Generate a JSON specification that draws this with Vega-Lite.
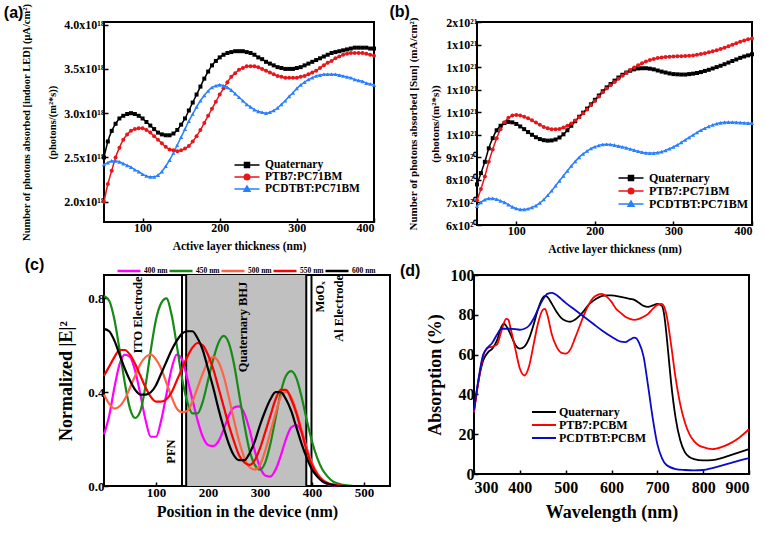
{
"$schema": "https://vega.github.io/schema/vega-lite/v6.json",
"background": "white",
"padding": {"left": 2, "top": 2, "right": 2, "bottom": 2},
"resolve": {"scale": {"color": "independent", "shape": "independent"}, "legend": {"color": "independent", "shape": "independent"}},
"config": {
  "view": {"stroke": "black", "strokeWidth": 2},
  "axis": {"grid": false, "domain": false, "tickColor": "black", "tickSize": -4, "tickWidth": 1.5, "labelPadding": 4, "labelColor": "black", "titleColor": "black", "labelFont": "Liberation Serif", "titleFont": "Liberation Serif", "labelFontWeight": "bold", "titleFontWeight": "bold"},
  "legend": {"labelFont": "Liberation Serif", "labelFontWeight": "bold", "labelColor": "black"},
  "title": {"font": "Liberation Sans", "fontWeight": "bold", "fontSize": 16, "color": "black", "anchor": "start", "frame": "bounds"}
},
"datasets": {
"a": [
{"s":"Quaternary","x":50,"y":2.50},{"s":"Quaternary","x":55,"y":2.68},{"s":"Quaternary","x":60,"y":2.80},{"s":"Quaternary","x":65,"y":2.88},{"s":"Quaternary","x":70,"y":2.94},{"s":"Quaternary","x":75,"y":2.97},{"s":"Quaternary","x":80,"y":2.99},{"s":"Quaternary","x":85,"y":3.00},{"s":"Quaternary","x":90,"y":2.99},{"s":"Quaternary","x":95,"y":2.97},{"s":"Quaternary","x":100,"y":2.94},{"s":"Quaternary","x":105,"y":2.90},{"s":"Quaternary","x":110,"y":2.86},{"s":"Quaternary","x":115,"y":2.82},{"s":"Quaternary","x":120,"y":2.78},{"s":"Quaternary","x":125,"y":2.76},{"s":"Quaternary","x":130,"y":2.75},{"s":"Quaternary","x":135,"y":2.75},{"s":"Quaternary","x":140,"y":2.77},{"s":"Quaternary","x":145,"y":2.81},{"s":"Quaternary","x":150,"y":2.87},{"s":"Quaternary","x":155,"y":2.94},{"s":"Quaternary","x":160,"y":3.03},{"s":"Quaternary","x":165,"y":3.12},{"s":"Quaternary","x":170,"y":3.21},{"s":"Quaternary","x":175,"y":3.30},{"s":"Quaternary","x":180,"y":3.39},{"s":"Quaternary","x":185,"y":3.47},{"s":"Quaternary","x":190,"y":3.54},{"s":"Quaternary","x":195,"y":3.59},{"s":"Quaternary","x":200,"y":3.63},{"s":"Quaternary","x":205,"y":3.66},{"s":"Quaternary","x":210,"y":3.68},{"s":"Quaternary","x":215,"y":3.69},{"s":"Quaternary","x":220,"y":3.70},{"s":"Quaternary","x":225,"y":3.70},{"s":"Quaternary","x":230,"y":3.70},{"s":"Quaternary","x":235,"y":3.69},{"s":"Quaternary","x":240,"y":3.68},{"s":"Quaternary","x":245,"y":3.66},{"s":"Quaternary","x":250,"y":3.63},{"s":"Quaternary","x":255,"y":3.61},{"s":"Quaternary","x":260,"y":3.58},{"s":"Quaternary","x":265,"y":3.56},{"s":"Quaternary","x":270,"y":3.54},{"s":"Quaternary","x":275,"y":3.52},{"s":"Quaternary","x":280,"y":3.51},{"s":"Quaternary","x":285,"y":3.50},{"s":"Quaternary","x":290,"y":3.50},{"s":"Quaternary","x":295,"y":3.50},{"s":"Quaternary","x":300,"y":3.51},{"s":"Quaternary","x":305,"y":3.52},{"s":"Quaternary","x":310,"y":3.54},{"s":"Quaternary","x":315,"y":3.56},{"s":"Quaternary","x":320,"y":3.58},{"s":"Quaternary","x":325,"y":3.60},{"s":"Quaternary","x":330,"y":3.62},{"s":"Quaternary","x":335,"y":3.64},{"s":"Quaternary","x":340,"y":3.66},{"s":"Quaternary","x":345,"y":3.68},{"s":"Quaternary","x":350,"y":3.69},{"s":"Quaternary","x":355,"y":3.70},{"s":"Quaternary","x":360,"y":3.71},{"s":"Quaternary","x":365,"y":3.72},{"s":"Quaternary","x":370,"y":3.73},{"s":"Quaternary","x":375,"y":3.74},{"s":"Quaternary","x":380,"y":3.74},{"s":"Quaternary","x":385,"y":3.74},{"s":"Quaternary","x":390,"y":3.74},{"s":"Quaternary","x":395,"y":3.73},{"s":"Quaternary","x":400,"y":3.73},
{"s":"PTB7:PC71BM","x":50,"y":2.00},{"s":"PTB7:PC71BM","x":55,"y":2.20},{"s":"PTB7:PC71BM","x":60,"y":2.35},{"s":"PTB7:PC71BM","x":65,"y":2.50},{"s":"PTB7:PC71BM","x":70,"y":2.61},{"s":"PTB7:PC71BM","x":75,"y":2.70},{"s":"PTB7:PC71BM","x":80,"y":2.76},{"s":"PTB7:PC71BM","x":85,"y":2.80},{"s":"PTB7:PC71BM","x":90,"y":2.82},{"s":"PTB7:PC71BM","x":95,"y":2.83},{"s":"PTB7:PC71BM","x":100,"y":2.83},{"s":"PTB7:PC71BM","x":105,"y":2.81},{"s":"PTB7:PC71BM","x":110,"y":2.78},{"s":"PTB7:PC71BM","x":115,"y":2.74},{"s":"PTB7:PC71BM","x":120,"y":2.70},{"s":"PTB7:PC71BM","x":125,"y":2.66},{"s":"PTB7:PC71BM","x":130,"y":2.62},{"s":"PTB7:PC71BM","x":135,"y":2.59},{"s":"PTB7:PC71BM","x":140,"y":2.58},{"s":"PTB7:PC71BM","x":145,"y":2.57},{"s":"PTB7:PC71BM","x":150,"y":2.58},{"s":"PTB7:PC71BM","x":155,"y":2.60},{"s":"PTB7:PC71BM","x":160,"y":2.63},{"s":"PTB7:PC71BM","x":165,"y":2.68},{"s":"PTB7:PC71BM","x":170,"y":2.74},{"s":"PTB7:PC71BM","x":175,"y":2.81},{"s":"PTB7:PC71BM","x":180,"y":2.89},{"s":"PTB7:PC71BM","x":185,"y":2.97},{"s":"PTB7:PC71BM","x":190,"y":3.05},{"s":"PTB7:PC71BM","x":195,"y":3.13},{"s":"PTB7:PC71BM","x":200,"y":3.21},{"s":"PTB7:PC71BM","x":205,"y":3.28},{"s":"PTB7:PC71BM","x":210,"y":3.35},{"s":"PTB7:PC71BM","x":215,"y":3.41},{"s":"PTB7:PC71BM","x":220,"y":3.45},{"s":"PTB7:PC71BM","x":225,"y":3.49},{"s":"PTB7:PC71BM","x":230,"y":3.51},{"s":"PTB7:PC71BM","x":235,"y":3.53},{"s":"PTB7:PC71BM","x":240,"y":3.53},{"s":"PTB7:PC71BM","x":245,"y":3.53},{"s":"PTB7:PC71BM","x":250,"y":3.52},{"s":"PTB7:PC71BM","x":255,"y":3.50},{"s":"PTB7:PC71BM","x":260,"y":3.48},{"s":"PTB7:PC71BM","x":265,"y":3.46},{"s":"PTB7:PC71BM","x":270,"y":3.44},{"s":"PTB7:PC71BM","x":275,"y":3.42},{"s":"PTB7:PC71BM","x":280,"y":3.41},{"s":"PTB7:PC71BM","x":285,"y":3.40},{"s":"PTB7:PC71BM","x":290,"y":3.40},{"s":"PTB7:PC71BM","x":295,"y":3.40},{"s":"PTB7:PC71BM","x":300,"y":3.40},{"s":"PTB7:PC71BM","x":305,"y":3.41},{"s":"PTB7:PC71BM","x":310,"y":3.42},{"s":"PTB7:PC71BM","x":315,"y":3.44},{"s":"PTB7:PC71BM","x":320,"y":3.46},{"s":"PTB7:PC71BM","x":325,"y":3.48},{"s":"PTB7:PC71BM","x":330,"y":3.51},{"s":"PTB7:PC71BM","x":335,"y":3.54},{"s":"PTB7:PC71BM","x":340,"y":3.57},{"s":"PTB7:PC71BM","x":345,"y":3.59},{"s":"PTB7:PC71BM","x":350,"y":3.62},{"s":"PTB7:PC71BM","x":355,"y":3.64},{"s":"PTB7:PC71BM","x":360,"y":3.66},{"s":"PTB7:PC71BM","x":365,"y":3.67},{"s":"PTB7:PC71BM","x":370,"y":3.68},{"s":"PTB7:PC71BM","x":375,"y":3.68},{"s":"PTB7:PC71BM","x":380,"y":3.68},{"s":"PTB7:PC71BM","x":385,"y":3.68},{"s":"PTB7:PC71BM","x":390,"y":3.67},{"s":"PTB7:PC71BM","x":395,"y":3.66},{"s":"PTB7:PC71BM","x":400,"y":3.65},
{"s":"PCDTBT:PC71BM","x":50,"y":2.42},{"s":"PCDTBT:PC71BM","x":55,"y":2.44},{"s":"PCDTBT:PC71BM","x":60,"y":2.46},{"s":"PCDTBT:PC71BM","x":65,"y":2.46},{"s":"PCDTBT:PC71BM","x":70,"y":2.45},{"s":"PCDTBT:PC71BM","x":75,"y":2.43},{"s":"PCDTBT:PC71BM","x":80,"y":2.41},{"s":"PCDTBT:PC71BM","x":85,"y":2.39},{"s":"PCDTBT:PC71BM","x":90,"y":2.36},{"s":"PCDTBT:PC71BM","x":95,"y":2.34},{"s":"PCDTBT:PC71BM","x":100,"y":2.31},{"s":"PCDTBT:PC71BM","x":105,"y":2.29},{"s":"PCDTBT:PC71BM","x":110,"y":2.28},{"s":"PCDTBT:PC71BM","x":115,"y":2.28},{"s":"PCDTBT:PC71BM","x":120,"y":2.30},{"s":"PCDTBT:PC71BM","x":125,"y":2.34},{"s":"PCDTBT:PC71BM","x":130,"y":2.40},{"s":"PCDTBT:PC71BM","x":135,"y":2.47},{"s":"PCDTBT:PC71BM","x":140,"y":2.55},{"s":"PCDTBT:PC71BM","x":145,"y":2.64},{"s":"PCDTBT:PC71BM","x":150,"y":2.73},{"s":"PCDTBT:PC71BM","x":155,"y":2.82},{"s":"PCDTBT:PC71BM","x":160,"y":2.91},{"s":"PCDTBT:PC71BM","x":165,"y":2.99},{"s":"PCDTBT:PC71BM","x":170,"y":3.07},{"s":"PCDTBT:PC71BM","x":175,"y":3.14},{"s":"PCDTBT:PC71BM","x":180,"y":3.20},{"s":"PCDTBT:PC71BM","x":185,"y":3.25},{"s":"PCDTBT:PC71BM","x":190,"y":3.29},{"s":"PCDTBT:PC71BM","x":195,"y":3.31},{"s":"PCDTBT:PC71BM","x":200,"y":3.32},{"s":"PCDTBT:PC71BM","x":205,"y":3.31},{"s":"PCDTBT:PC71BM","x":210,"y":3.29},{"s":"PCDTBT:PC71BM","x":215,"y":3.26},{"s":"PCDTBT:PC71BM","x":220,"y":3.22},{"s":"PCDTBT:PC71BM","x":225,"y":3.18},{"s":"PCDTBT:PC71BM","x":230,"y":3.14},{"s":"PCDTBT:PC71BM","x":235,"y":3.10},{"s":"PCDTBT:PC71BM","x":240,"y":3.07},{"s":"PCDTBT:PC71BM","x":245,"y":3.04},{"s":"PCDTBT:PC71BM","x":250,"y":3.02},{"s":"PCDTBT:PC71BM","x":255,"y":3.01},{"s":"PCDTBT:PC71BM","x":260,"y":3.00},{"s":"PCDTBT:PC71BM","x":265,"y":3.01},{"s":"PCDTBT:PC71BM","x":270,"y":3.03},{"s":"PCDTBT:PC71BM","x":275,"y":3.06},{"s":"PCDTBT:PC71BM","x":280,"y":3.10},{"s":"PCDTBT:PC71BM","x":285,"y":3.14},{"s":"PCDTBT:PC71BM","x":290,"y":3.19},{"s":"PCDTBT:PC71BM","x":295,"y":3.23},{"s":"PCDTBT:PC71BM","x":300,"y":3.28},{"s":"PCDTBT:PC71BM","x":305,"y":3.32},{"s":"PCDTBT:PC71BM","x":310,"y":3.35},{"s":"PCDTBT:PC71BM","x":315,"y":3.38},{"s":"PCDTBT:PC71BM","x":320,"y":3.40},{"s":"PCDTBT:PC71BM","x":325,"y":3.42},{"s":"PCDTBT:PC71BM","x":330,"y":3.43},{"s":"PCDTBT:PC71BM","x":335,"y":3.44},{"s":"PCDTBT:PC71BM","x":340,"y":3.44},{"s":"PCDTBT:PC71BM","x":345,"y":3.44},{"s":"PCDTBT:PC71BM","x":350,"y":3.44},{"s":"PCDTBT:PC71BM","x":355,"y":3.43},{"s":"PCDTBT:PC71BM","x":360,"y":3.42},{"s":"PCDTBT:PC71BM","x":365,"y":3.41},{"s":"PCDTBT:PC71BM","x":370,"y":3.40},{"s":"PCDTBT:PC71BM","x":375,"y":3.38},{"s":"PCDTBT:PC71BM","x":380,"y":3.37},{"s":"PCDTBT:PC71BM","x":385,"y":3.36},{"s":"PCDTBT:PC71BM","x":390,"y":3.34},{"s":"PCDTBT:PC71BM","x":395,"y":3.33},{"s":"PCDTBT:PC71BM","x":400,"y":3.32}
],
"b": [
{"s":"Quaternary","x":50,"y":7.80},{"s":"Quaternary","x":55,"y":8.30},{"s":"Quaternary","x":60,"y":8.80},{"s":"Quaternary","x":65,"y":9.40},{"s":"Quaternary","x":70,"y":9.85},{"s":"Quaternary","x":75,"y":10.20},{"s":"Quaternary","x":80,"y":10.40},{"s":"Quaternary","x":85,"y":10.52},{"s":"Quaternary","x":90,"y":10.57},{"s":"Quaternary","x":95,"y":10.55},{"s":"Quaternary","x":100,"y":10.48},{"s":"Quaternary","x":105,"y":10.37},{"s":"Quaternary","x":110,"y":10.25},{"s":"Quaternary","x":115,"y":10.12},{"s":"Quaternary","x":120,"y":10.00},{"s":"Quaternary","x":125,"y":9.89},{"s":"Quaternary","x":130,"y":9.81},{"s":"Quaternary","x":135,"y":9.76},{"s":"Quaternary","x":140,"y":9.74},{"s":"Quaternary","x":145,"y":9.75},{"s":"Quaternary","x":150,"y":9.79},{"s":"Quaternary","x":155,"y":9.88},{"s":"Quaternary","x":160,"y":10.02},{"s":"Quaternary","x":165,"y":10.20},{"s":"Quaternary","x":170,"y":10.40},{"s":"Quaternary","x":175,"y":10.60},{"s":"Quaternary","x":180,"y":10.80},{"s":"Quaternary","x":185,"y":10.98},{"s":"Quaternary","x":190,"y":11.16},{"s":"Quaternary","x":195,"y":11.35},{"s":"Quaternary","x":200,"y":11.55},{"s":"Quaternary","x":205,"y":11.74},{"s":"Quaternary","x":210,"y":11.93},{"s":"Quaternary","x":215,"y":12.10},{"s":"Quaternary","x":220,"y":12.25},{"s":"Quaternary","x":225,"y":12.40},{"s":"Quaternary","x":230,"y":12.54},{"s":"Quaternary","x":235,"y":12.66},{"s":"Quaternary","x":240,"y":12.76},{"s":"Quaternary","x":245,"y":12.84},{"s":"Quaternary","x":250,"y":12.90},{"s":"Quaternary","x":255,"y":12.94},{"s":"Quaternary","x":260,"y":12.95},{"s":"Quaternary","x":265,"y":12.95},{"s":"Quaternary","x":270,"y":12.93},{"s":"Quaternary","x":275,"y":12.90},{"s":"Quaternary","x":280,"y":12.85},{"s":"Quaternary","x":285,"y":12.80},{"s":"Quaternary","x":290,"y":12.76},{"s":"Quaternary","x":295,"y":12.72},{"s":"Quaternary","x":300,"y":12.69},{"s":"Quaternary","x":305,"y":12.68},{"s":"Quaternary","x":310,"y":12.67},{"s":"Quaternary","x":315,"y":12.67},{"s":"Quaternary","x":320,"y":12.69},{"s":"Quaternary","x":325,"y":12.71},{"s":"Quaternary","x":330,"y":12.74},{"s":"Quaternary","x":335,"y":12.78},{"s":"Quaternary","x":340,"y":12.83},{"s":"Quaternary","x":345,"y":12.88},{"s":"Quaternary","x":350,"y":12.94},{"s":"Quaternary","x":355,"y":13.00},{"s":"Quaternary","x":360,"y":13.06},{"s":"Quaternary","x":365,"y":13.13},{"s":"Quaternary","x":370,"y":13.20},{"s":"Quaternary","x":375,"y":13.27},{"s":"Quaternary","x":380,"y":13.34},{"s":"Quaternary","x":385,"y":13.41},{"s":"Quaternary","x":390,"y":13.47},{"s":"Quaternary","x":395,"y":13.52},{"s":"Quaternary","x":400,"y":13.57},
{"s":"PTB7:PC71BM","x":50,"y":7.10},{"s":"PTB7:PC71BM","x":55,"y":7.60},{"s":"PTB7:PC71BM","x":60,"y":8.15},{"s":"PTB7:PC71BM","x":65,"y":8.80},{"s":"PTB7:PC71BM","x":70,"y":9.35},{"s":"PTB7:PC71BM","x":75,"y":9.85},{"s":"PTB7:PC71BM","x":80,"y":10.25},{"s":"PTB7:PC71BM","x":85,"y":10.55},{"s":"PTB7:PC71BM","x":90,"y":10.75},{"s":"PTB7:PC71BM","x":95,"y":10.85},{"s":"PTB7:PC71BM","x":100,"y":10.88},{"s":"PTB7:PC71BM","x":105,"y":10.86},{"s":"PTB7:PC71BM","x":110,"y":10.80},{"s":"PTB7:PC71BM","x":115,"y":10.73},{"s":"PTB7:PC71BM","x":120,"y":10.64},{"s":"PTB7:PC71BM","x":125,"y":10.54},{"s":"PTB7:PC71BM","x":130,"y":10.44},{"s":"PTB7:PC71BM","x":135,"y":10.35},{"s":"PTB7:PC71BM","x":140,"y":10.29},{"s":"PTB7:PC71BM","x":145,"y":10.25},{"s":"PTB7:PC71BM","x":150,"y":10.24},{"s":"PTB7:PC71BM","x":155,"y":10.26},{"s":"PTB7:PC71BM","x":160,"y":10.32},{"s":"PTB7:PC71BM","x":165,"y":10.40},{"s":"PTB7:PC71BM","x":170,"y":10.50},{"s":"PTB7:PC71BM","x":175,"y":10.63},{"s":"PTB7:PC71BM","x":180,"y":10.78},{"s":"PTB7:PC71BM","x":185,"y":10.95},{"s":"PTB7:PC71BM","x":190,"y":11.12},{"s":"PTB7:PC71BM","x":195,"y":11.32},{"s":"PTB7:PC71BM","x":200,"y":11.50},{"s":"PTB7:PC71BM","x":205,"y":11.70},{"s":"PTB7:PC71BM","x":210,"y":11.88},{"s":"PTB7:PC71BM","x":215,"y":12.05},{"s":"PTB7:PC71BM","x":220,"y":12.20},{"s":"PTB7:PC71BM","x":225,"y":12.34},{"s":"PTB7:PC71BM","x":230,"y":12.48},{"s":"PTB7:PC71BM","x":235,"y":12.62},{"s":"PTB7:PC71BM","x":240,"y":12.75},{"s":"PTB7:PC71BM","x":245,"y":12.87},{"s":"PTB7:PC71BM","x":250,"y":12.98},{"s":"PTB7:PC71BM","x":255,"y":13.08},{"s":"PTB7:PC71BM","x":260,"y":13.17},{"s":"PTB7:PC71BM","x":265,"y":13.25},{"s":"PTB7:PC71BM","x":270,"y":13.31},{"s":"PTB7:PC71BM","x":275,"y":13.36},{"s":"PTB7:PC71BM","x":280,"y":13.40},{"s":"PTB7:PC71BM","x":285,"y":13.43},{"s":"PTB7:PC71BM","x":290,"y":13.45},{"s":"PTB7:PC71BM","x":295,"y":13.46},{"s":"PTB7:PC71BM","x":300,"y":13.47},{"s":"PTB7:PC71BM","x":305,"y":13.48},{"s":"PTB7:PC71BM","x":310,"y":13.48},{"s":"PTB7:PC71BM","x":315,"y":13.49},{"s":"PTB7:PC71BM","x":320,"y":13.50},{"s":"PTB7:PC71BM","x":325,"y":13.52},{"s":"PTB7:PC71BM","x":330,"y":13.55},{"s":"PTB7:PC71BM","x":335,"y":13.58},{"s":"PTB7:PC71BM","x":340,"y":13.62},{"s":"PTB7:PC71BM","x":345,"y":13.66},{"s":"PTB7:PC71BM","x":350,"y":13.70},{"s":"PTB7:PC71BM","x":355,"y":13.75},{"s":"PTB7:PC71BM","x":360,"y":13.80},{"s":"PTB7:PC71BM","x":365,"y":13.86},{"s":"PTB7:PC71BM","x":370,"y":13.92},{"s":"PTB7:PC71BM","x":375,"y":13.99},{"s":"PTB7:PC71BM","x":380,"y":14.06},{"s":"PTB7:PC71BM","x":385,"y":14.12},{"s":"PTB7:PC71BM","x":390,"y":14.18},{"s":"PTB7:PC71BM","x":395,"y":14.23},{"s":"PTB7:PC71BM","x":400,"y":14.27},
{"s":"PCDTBT:PC71BM","x":50,"y":6.84},{"s":"PCDTBT:PC71BM","x":55,"y":7.00},{"s":"PCDTBT:PC71BM","x":60,"y":7.12},{"s":"PCDTBT:PC71BM","x":65,"y":7.18},{"s":"PCDTBT:PC71BM","x":70,"y":7.18},{"s":"PCDTBT:PC71BM","x":75,"y":7.14},{"s":"PCDTBT:PC71BM","x":80,"y":7.07},{"s":"PCDTBT:PC71BM","x":85,"y":7.00},{"s":"PCDTBT:PC71BM","x":90,"y":6.90},{"s":"PCDTBT:PC71BM","x":95,"y":6.80},{"s":"PCDTBT:PC71BM","x":100,"y":6.73},{"s":"PCDTBT:PC71BM","x":105,"y":6.69},{"s":"PCDTBT:PC71BM","x":110,"y":6.69},{"s":"PCDTBT:PC71BM","x":115,"y":6.72},{"s":"PCDTBT:PC71BM","x":120,"y":6.78},{"s":"PCDTBT:PC71BM","x":125,"y":6.86},{"s":"PCDTBT:PC71BM","x":130,"y":6.98},{"s":"PCDTBT:PC71BM","x":135,"y":7.13},{"s":"PCDTBT:PC71BM","x":140,"y":7.32},{"s":"PCDTBT:PC71BM","x":145,"y":7.52},{"s":"PCDTBT:PC71BM","x":150,"y":7.74},{"s":"PCDTBT:PC71BM","x":155,"y":7.96},{"s":"PCDTBT:PC71BM","x":160,"y":8.18},{"s":"PCDTBT:PC71BM","x":165,"y":8.40},{"s":"PCDTBT:PC71BM","x":170,"y":8.62},{"s":"PCDTBT:PC71BM","x":175,"y":8.82},{"s":"PCDTBT:PC71BM","x":180,"y":9.00},{"s":"PCDTBT:PC71BM","x":185,"y":9.15},{"s":"PCDTBT:PC71BM","x":190,"y":9.28},{"s":"PCDTBT:PC71BM","x":195,"y":9.39},{"s":"PCDTBT:PC71BM","x":200,"y":9.47},{"s":"PCDTBT:PC71BM","x":205,"y":9.53},{"s":"PCDTBT:PC71BM","x":210,"y":9.57},{"s":"PCDTBT:PC71BM","x":215,"y":9.58},{"s":"PCDTBT:PC71BM","x":220,"y":9.57},{"s":"PCDTBT:PC71BM","x":225,"y":9.54},{"s":"PCDTBT:PC71BM","x":230,"y":9.50},{"s":"PCDTBT:PC71BM","x":235,"y":9.46},{"s":"PCDTBT:PC71BM","x":240,"y":9.42},{"s":"PCDTBT:PC71BM","x":245,"y":9.37},{"s":"PCDTBT:PC71BM","x":250,"y":9.32},{"s":"PCDTBT:PC71BM","x":255,"y":9.27},{"s":"PCDTBT:PC71BM","x":260,"y":9.23},{"s":"PCDTBT:PC71BM","x":265,"y":9.20},{"s":"PCDTBT:PC71BM","x":270,"y":9.19},{"s":"PCDTBT:PC71BM","x":275,"y":9.19},{"s":"PCDTBT:PC71BM","x":280,"y":9.21},{"s":"PCDTBT:PC71BM","x":285,"y":9.25},{"s":"PCDTBT:PC71BM","x":290,"y":9.31},{"s":"PCDTBT:PC71BM","x":295,"y":9.38},{"s":"PCDTBT:PC71BM","x":300,"y":9.46},{"s":"PCDTBT:PC71BM","x":305,"y":9.55},{"s":"PCDTBT:PC71BM","x":310,"y":9.66},{"s":"PCDTBT:PC71BM","x":315,"y":9.77},{"s":"PCDTBT:PC71BM","x":320,"y":9.88},{"s":"PCDTBT:PC71BM","x":325,"y":9.99},{"s":"PCDTBT:PC71BM","x":330,"y":10.10},{"s":"PCDTBT:PC71BM","x":335,"y":10.20},{"s":"PCDTBT:PC71BM","x":340,"y":10.29},{"s":"PCDTBT:PC71BM","x":345,"y":10.37},{"s":"PCDTBT:PC71BM","x":350,"y":10.44},{"s":"PCDTBT:PC71BM","x":355,"y":10.49},{"s":"PCDTBT:PC71BM","x":360,"y":10.53},{"s":"PCDTBT:PC71BM","x":365,"y":10.55},{"s":"PCDTBT:PC71BM","x":370,"y":10.56},{"s":"PCDTBT:PC71BM","x":375,"y":10.56},{"s":"PCDTBT:PC71BM","x":380,"y":10.55},{"s":"PCDTBT:PC71BM","x":385,"y":10.54},{"s":"PCDTBT:PC71BM","x":390,"y":10.53},{"s":"PCDTBT:PC71BM","x":395,"y":10.52},{"s":"PCDTBT:PC71BM","x":400,"y":10.51}
],
"c": [
{"s":"400 nm","x":0,"y":0.22},{"s":"400 nm","x":10,"y":0.30},{"s":"400 nm","x":20,"y":0.42},{"s":"400 nm","x":30,"y":0.52},{"s":"400 nm","x":40,"y":0.56},{"s":"400 nm","x":50,"y":0.55},{"s":"400 nm","x":60,"y":0.49},{"s":"400 nm","x":70,"y":0.39},{"s":"400 nm","x":80,"y":0.28},{"s":"400 nm","x":90,"y":0.21},{"s":"400 nm","x":100,"y":0.21},{"s":"400 nm","x":110,"y":0.28},{"s":"400 nm","x":120,"y":0.39},{"s":"400 nm","x":130,"y":0.50},{"s":"400 nm","x":140,"y":0.56},{"s":"400 nm","x":150,"y":0.54},{"s":"400 nm","x":160,"y":0.46},{"s":"400 nm","x":170,"y":0.37},{"s":"400 nm","x":180,"y":0.28},{"s":"400 nm","x":190,"y":0.21},{"s":"400 nm","x":200,"y":0.175},{"s":"400 nm","x":210,"y":0.17},{"s":"400 nm","x":220,"y":0.19},{"s":"400 nm","x":230,"y":0.24},{"s":"400 nm","x":240,"y":0.30},{"s":"400 nm","x":250,"y":0.335},{"s":"400 nm","x":260,"y":0.34},{"s":"400 nm","x":270,"y":0.31},{"s":"400 nm","x":280,"y":0.24},{"s":"400 nm","x":290,"y":0.15},{"s":"400 nm","x":300,"y":0.08},{"s":"400 nm","x":310,"y":0.045},{"s":"400 nm","x":320,"y":0.04},{"s":"400 nm","x":330,"y":0.07},{"s":"400 nm","x":340,"y":0.13},{"s":"400 nm","x":350,"y":0.20},{"s":"400 nm","x":360,"y":0.25},{"s":"400 nm","x":370,"y":0.26},{"s":"400 nm","x":380,"y":0.23},{"s":"400 nm","x":390,"y":0.16},{"s":"400 nm","x":400,"y":0.09},{"s":"400 nm","x":410,"y":0.045},{"s":"400 nm","x":420,"y":0.02},{"s":"400 nm","x":430,"y":0.008},{"s":"400 nm","x":440,"y":0.003},{"s":"400 nm","x":450,"y":0},{"s":"400 nm","x":500,"y":0},{"s":"400 nm","x":550,"y":0},
{"s":"450 nm","x":0,"y":0.81},{"s":"450 nm","x":10,"y":0.79},{"s":"450 nm","x":20,"y":0.71},{"s":"450 nm","x":30,"y":0.58},{"s":"450 nm","x":40,"y":0.44},{"s":"450 nm","x":50,"y":0.33},{"s":"450 nm","x":60,"y":0.29},{"s":"450 nm","x":70,"y":0.32},{"s":"450 nm","x":80,"y":0.43},{"s":"450 nm","x":90,"y":0.58},{"s":"450 nm","x":100,"y":0.71},{"s":"450 nm","x":110,"y":0.78},{"s":"450 nm","x":120,"y":0.80},{"s":"450 nm","x":130,"y":0.73},{"s":"450 nm","x":140,"y":0.60},{"s":"450 nm","x":150,"y":0.46},{"s":"450 nm","x":160,"y":0.36},{"s":"450 nm","x":170,"y":0.31},{"s":"450 nm","x":180,"y":0.31},{"s":"450 nm","x":190,"y":0.36},{"s":"450 nm","x":200,"y":0.45},{"s":"450 nm","x":210,"y":0.54},{"s":"450 nm","x":220,"y":0.61},{"s":"450 nm","x":230,"y":0.64},{"s":"450 nm","x":240,"y":0.61},{"s":"450 nm","x":250,"y":0.52},{"s":"450 nm","x":260,"y":0.39},{"s":"450 nm","x":270,"y":0.26},{"s":"450 nm","x":280,"y":0.15},{"s":"450 nm","x":290,"y":0.09},{"s":"450 nm","x":300,"y":0.07},{"s":"450 nm","x":310,"y":0.10},{"s":"450 nm","x":320,"y":0.18},{"s":"450 nm","x":330,"y":0.29},{"s":"450 nm","x":340,"y":0.40},{"s":"450 nm","x":350,"y":0.47},{"s":"450 nm","x":360,"y":0.49},{"s":"450 nm","x":370,"y":0.46},{"s":"450 nm","x":380,"y":0.38},{"s":"450 nm","x":390,"y":0.28},{"s":"450 nm","x":400,"y":0.19},{"s":"450 nm","x":410,"y":0.12},{"s":"450 nm","x":420,"y":0.07},{"s":"450 nm","x":430,"y":0.04},{"s":"450 nm","x":440,"y":0.02},{"s":"450 nm","x":450,"y":0.01},{"s":"450 nm","x":460,"y":0.005},{"s":"450 nm","x":470,"y":0.002},{"s":"450 nm","x":480,"y":0},{"s":"450 nm","x":550,"y":0},
{"s":"500 nm","x":0,"y":0.39},{"s":"500 nm","x":10,"y":0.35},{"s":"500 nm","x":20,"y":0.33},{"s":"500 nm","x":30,"y":0.34},{"s":"500 nm","x":40,"y":0.37},{"s":"500 nm","x":50,"y":0.42},{"s":"500 nm","x":60,"y":0.47},{"s":"500 nm","x":70,"y":0.52},{"s":"500 nm","x":80,"y":0.55},{"s":"500 nm","x":90,"y":0.56},{"s":"500 nm","x":100,"y":0.54},{"s":"500 nm","x":110,"y":0.50},{"s":"500 nm","x":120,"y":0.44},{"s":"500 nm","x":130,"y":0.38},{"s":"500 nm","x":140,"y":0.33},{"s":"500 nm","x":150,"y":0.315},{"s":"500 nm","x":160,"y":0.32},{"s":"500 nm","x":170,"y":0.36},{"s":"500 nm","x":180,"y":0.42},{"s":"500 nm","x":190,"y":0.48},{"s":"500 nm","x":200,"y":0.53},{"s":"500 nm","x":210,"y":0.55},{"s":"500 nm","x":220,"y":0.53},{"s":"500 nm","x":230,"y":0.47},{"s":"500 nm","x":240,"y":0.38},{"s":"500 nm","x":250,"y":0.28},{"s":"500 nm","x":260,"y":0.19},{"s":"500 nm","x":270,"y":0.12},{"s":"500 nm","x":280,"y":0.08},{"s":"500 nm","x":290,"y":0.07},{"s":"500 nm","x":300,"y":0.09},{"s":"500 nm","x":310,"y":0.15},{"s":"500 nm","x":320,"y":0.23},{"s":"500 nm","x":330,"y":0.31},{"s":"500 nm","x":340,"y":0.38},{"s":"500 nm","x":350,"y":0.40},{"s":"500 nm","x":360,"y":0.38},{"s":"500 nm","x":370,"y":0.32},{"s":"500 nm","x":380,"y":0.24},{"s":"500 nm","x":390,"y":0.16},{"s":"500 nm","x":400,"y":0.10},{"s":"500 nm","x":410,"y":0.055},{"s":"500 nm","x":420,"y":0.028},{"s":"500 nm","x":430,"y":0.014},{"s":"500 nm","x":440,"y":0.007},{"s":"500 nm","x":450,"y":0.003},{"s":"500 nm","x":460,"y":0},{"s":"500 nm","x":550,"y":0},
{"s":"550 nm","x":0,"y":0.47},{"s":"550 nm","x":10,"y":0.51},{"s":"550 nm","x":20,"y":0.55},{"s":"550 nm","x":30,"y":0.58},{"s":"550 nm","x":40,"y":0.58},{"s":"550 nm","x":50,"y":0.56},{"s":"550 nm","x":60,"y":0.52},{"s":"550 nm","x":70,"y":0.47},{"s":"550 nm","x":80,"y":0.42},{"s":"550 nm","x":90,"y":0.38},{"s":"550 nm","x":100,"y":0.36},{"s":"550 nm","x":110,"y":0.36},{"s":"550 nm","x":120,"y":0.37},{"s":"550 nm","x":130,"y":0.40},{"s":"550 nm","x":140,"y":0.45},{"s":"550 nm","x":150,"y":0.50},{"s":"550 nm","x":160,"y":0.55},{"s":"550 nm","x":170,"y":0.59},{"s":"550 nm","x":180,"y":0.61},{"s":"550 nm","x":190,"y":0.60},{"s":"550 nm","x":200,"y":0.56},{"s":"550 nm","x":210,"y":0.50},{"s":"550 nm","x":220,"y":0.42},{"s":"550 nm","x":230,"y":0.34},{"s":"550 nm","x":240,"y":0.26},{"s":"550 nm","x":250,"y":0.19},{"s":"550 nm","x":260,"y":0.13},{"s":"550 nm","x":270,"y":0.10},{"s":"550 nm","x":280,"y":0.09},{"s":"550 nm","x":290,"y":0.11},{"s":"550 nm","x":300,"y":0.16},{"s":"550 nm","x":310,"y":0.23},{"s":"550 nm","x":320,"y":0.30},{"s":"550 nm","x":330,"y":0.37},{"s":"550 nm","x":340,"y":0.41},{"s":"550 nm","x":350,"y":0.41},{"s":"550 nm","x":360,"y":0.37},{"s":"550 nm","x":370,"y":0.31},{"s":"550 nm","x":380,"y":0.23},{"s":"550 nm","x":390,"y":0.15},{"s":"550 nm","x":400,"y":0.09},{"s":"550 nm","x":410,"y":0.05},{"s":"550 nm","x":420,"y":0.025},{"s":"550 nm","x":430,"y":0.012},{"s":"550 nm","x":440,"y":0.006},{"s":"550 nm","x":450,"y":0.003},{"s":"550 nm","x":460,"y":0},{"s":"550 nm","x":550,"y":0},
{"s":"600 nm","x":0,"y":0.67},{"s":"600 nm","x":10,"y":0.66},{"s":"600 nm","x":20,"y":0.62},{"s":"600 nm","x":30,"y":0.56},{"s":"600 nm","x":40,"y":0.50},{"s":"600 nm","x":50,"y":0.45},{"s":"600 nm","x":60,"y":0.41},{"s":"600 nm","x":70,"y":0.39},{"s":"600 nm","x":80,"y":0.39},{"s":"600 nm","x":90,"y":0.40},{"s":"600 nm","x":100,"y":0.43},{"s":"600 nm","x":110,"y":0.48},{"s":"600 nm","x":120,"y":0.53},{"s":"600 nm","x":130,"y":0.58},{"s":"600 nm","x":140,"y":0.62},{"s":"600 nm","x":150,"y":0.65},{"s":"600 nm","x":160,"y":0.66},{"s":"600 nm","x":170,"y":0.66},{"s":"600 nm","x":180,"y":0.63},{"s":"600 nm","x":190,"y":0.58},{"s":"600 nm","x":200,"y":0.50},{"s":"600 nm","x":210,"y":0.42},{"s":"600 nm","x":220,"y":0.33},{"s":"600 nm","x":230,"y":0.25},{"s":"600 nm","x":240,"y":0.18},{"s":"600 nm","x":250,"y":0.13},{"s":"600 nm","x":260,"y":0.11},{"s":"600 nm","x":270,"y":0.11},{"s":"600 nm","x":280,"y":0.14},{"s":"600 nm","x":290,"y":0.19},{"s":"600 nm","x":300,"y":0.26},{"s":"600 nm","x":310,"y":0.32},{"s":"600 nm","x":320,"y":0.37},{"s":"600 nm","x":330,"y":0.40},{"s":"600 nm","x":340,"y":0.40},{"s":"600 nm","x":350,"y":0.37},{"s":"600 nm","x":360,"y":0.32},{"s":"600 nm","x":370,"y":0.25},{"s":"600 nm","x":380,"y":0.18},{"s":"600 nm","x":390,"y":0.12},{"s":"600 nm","x":400,"y":0.07},{"s":"600 nm","x":410,"y":0.04},{"s":"600 nm","x":420,"y":0.02},{"s":"600 nm","x":430,"y":0.01},{"s":"600 nm","x":440,"y":0.005},{"s":"600 nm","x":450,"y":0},{"s":"600 nm","x":550,"y":0}
],
"layers": [{"x1": 158, "x2": 389}],
"edges": [{"x": 150}, {"x": 158}, {"x": 389}, {"x": 399}],
"labels": [
{"t":"ITO Electrode","x":66,"y":0.565},
{"t":"PFN","x":128,"y":0.095},
{"t":"Quaternary BHJ","x":267,"y":0.485},
{"t":"MoOₓ","x":415,"y":0.74},
{"t":"Al Electrode","x":451,"y":0.615}
],
"d": [
{"s":"Quaternary","x":300,"y":32},{"s":"Quaternary","x":310,"y":47},{"s":"Quaternary","x":320,"y":57},{"s":"Quaternary","x":330,"y":61},{"s":"Quaternary","x":340,"y":63},{"s":"Quaternary","x":350,"y":67},{"s":"Quaternary","x":360,"y":74},{"s":"Quaternary","x":365,"y":75.5},{"s":"Quaternary","x":370,"y":74.5},{"s":"Quaternary","x":380,"y":70},{"s":"Quaternary","x":390,"y":65},{"s":"Quaternary","x":400,"y":63},{"s":"Quaternary","x":410,"y":64},{"s":"Quaternary","x":420,"y":68},{"s":"Quaternary","x":430,"y":75},{"s":"Quaternary","x":440,"y":83},{"s":"Quaternary","x":450,"y":88.5},{"s":"Quaternary","x":455,"y":89.5},{"s":"Quaternary","x":460,"y":89},{"s":"Quaternary","x":470,"y":85.5},{"s":"Quaternary","x":480,"y":81.5},{"s":"Quaternary","x":490,"y":78.5},{"s":"Quaternary","x":500,"y":77},{"s":"Quaternary","x":510,"y":76.5},{"s":"Quaternary","x":520,"y":77.5},{"s":"Quaternary","x":530,"y":79.5},{"s":"Quaternary","x":540,"y":82},{"s":"Quaternary","x":550,"y":85},{"s":"Quaternary","x":560,"y":87},{"s":"Quaternary","x":570,"y":88.5},{"s":"Quaternary","x":580,"y":89.5},{"s":"Quaternary","x":590,"y":89.8},{"s":"Quaternary","x":600,"y":89.8},{"s":"Quaternary","x":620,"y":89},{"s":"Quaternary","x":640,"y":88},{"s":"Quaternary","x":650,"y":87.5},{"s":"Quaternary","x":660,"y":86},{"s":"Quaternary","x":670,"y":84.5},{"s":"Quaternary","x":680,"y":84},{"s":"Quaternary","x":690,"y":84.7},{"s":"Quaternary","x":700,"y":85.5},{"s":"Quaternary","x":710,"y":84.5},{"s":"Quaternary","x":715,"y":80},{"s":"Quaternary","x":720,"y":70},{"s":"Quaternary","x":725,"y":58},{"s":"Quaternary","x":730,"y":46},{"s":"Quaternary","x":740,"y":28},{"s":"Quaternary","x":750,"y":17},{"s":"Quaternary","x":760,"y":11},{"s":"Quaternary","x":770,"y":8.5},{"s":"Quaternary","x":780,"y":7.5},{"s":"Quaternary","x":800,"y":6.8},{"s":"Quaternary","x":820,"y":7},{"s":"Quaternary","x":840,"y":8},{"s":"Quaternary","x":860,"y":9.5},{"s":"Quaternary","x":880,"y":11},{"s":"Quaternary","x":900,"y":12.5},
{"s":"PTB7:PCBM","x":300,"y":31},{"s":"PTB7:PCBM","x":310,"y":47},{"s":"PTB7:PCBM","x":320,"y":59},{"s":"PTB7:PCBM","x":330,"y":63.5},{"s":"PTB7:PCBM","x":340,"y":64},{"s":"PTB7:PCBM","x":350,"y":65},{"s":"PTB7:PCBM","x":360,"y":72},{"s":"PTB7:PCBM","x":370,"y":78},{"s":"PTB7:PCBM","x":375,"y":77.5},{"s":"PTB7:PCBM","x":380,"y":73},{"s":"PTB7:PCBM","x":390,"y":63},{"s":"PTB7:PCBM","x":400,"y":53},{"s":"PTB7:PCBM","x":410,"y":49.5},{"s":"PTB7:PCBM","x":420,"y":54},{"s":"PTB7:PCBM","x":430,"y":65},{"s":"PTB7:PCBM","x":440,"y":76},{"s":"PTB7:PCBM","x":450,"y":82.5},{"s":"PTB7:PCBM","x":455,"y":83},{"s":"PTB7:PCBM","x":460,"y":80},{"s":"PTB7:PCBM","x":470,"y":70},{"s":"PTB7:PCBM","x":480,"y":64},{"s":"PTB7:PCBM","x":490,"y":61},{"s":"PTB7:PCBM","x":500,"y":60.5},{"s":"PTB7:PCBM","x":510,"y":62.5},{"s":"PTB7:PCBM","x":520,"y":68},{"s":"PTB7:PCBM","x":530,"y":74},{"s":"PTB7:PCBM","x":540,"y":80},{"s":"PTB7:PCBM","x":550,"y":85},{"s":"PTB7:PCBM","x":560,"y":88.5},{"s":"PTB7:PCBM","x":570,"y":90},{"s":"PTB7:PCBM","x":578,"y":90.5},{"s":"PTB7:PCBM","x":590,"y":89},{"s":"PTB7:PCBM","x":600,"y":86.5},{"s":"PTB7:PCBM","x":610,"y":83},{"s":"PTB7:PCBM","x":620,"y":81},{"s":"PTB7:PCBM","x":630,"y":79},{"s":"PTB7:PCBM","x":640,"y":78},{"s":"PTB7:PCBM","x":650,"y":77.5},{"s":"PTB7:PCBM","x":660,"y":78},{"s":"PTB7:PCBM","x":670,"y":79},{"s":"PTB7:PCBM","x":680,"y":80.5},{"s":"PTB7:PCBM","x":690,"y":83},{"s":"PTB7:PCBM","x":700,"y":85},{"s":"PTB7:PCBM","x":710,"y":85.5},{"s":"PTB7:PCBM","x":715,"y":84},{"s":"PTB7:PCBM","x":720,"y":80},{"s":"PTB7:PCBM","x":730,"y":65},{"s":"PTB7:PCBM","x":740,"y":48},{"s":"PTB7:PCBM","x":750,"y":35},{"s":"PTB7:PCBM","x":760,"y":26},{"s":"PTB7:PCBM","x":770,"y":20},{"s":"PTB7:PCBM","x":780,"y":16.5},{"s":"PTB7:PCBM","x":790,"y":14.5},{"s":"PTB7:PCBM","x":800,"y":13.5},{"s":"PTB7:PCBM","x":820,"y":12.5},{"s":"PTB7:PCBM","x":840,"y":13.5},{"s":"PTB7:PCBM","x":860,"y":15.5},{"s":"PTB7:PCBM","x":880,"y":18.5},{"s":"PTB7:PCBM","x":900,"y":22.5},
{"s":"PCDTBT:PCBM","x":300,"y":32},{"s":"PCDTBT:PCBM","x":310,"y":48},{"s":"PCDTBT:PCBM","x":320,"y":60},{"s":"PCDTBT:PCBM","x":330,"y":63.5},{"s":"PCDTBT:PCBM","x":340,"y":66},{"s":"PCDTBT:PCBM","x":350,"y":70},{"s":"PCDTBT:PCBM","x":360,"y":73},{"s":"PCDTBT:PCBM","x":380,"y":73},{"s":"PCDTBT:PCBM","x":400,"y":72.5},{"s":"PCDTBT:PCBM","x":410,"y":73},{"s":"PCDTBT:PCBM","x":420,"y":74.5},{"s":"PCDTBT:PCBM","x":430,"y":78},{"s":"PCDTBT:PCBM","x":440,"y":83},{"s":"PCDTBT:PCBM","x":450,"y":87.5},{"s":"PCDTBT:PCBM","x":460,"y":90.5},{"s":"PCDTBT:PCBM","x":470,"y":91},{"s":"PCDTBT:PCBM","x":480,"y":90},{"s":"PCDTBT:PCBM","x":490,"y":88},{"s":"PCDTBT:PCBM","x":500,"y":86},{"s":"PCDTBT:PCBM","x":520,"y":82.5},{"s":"PCDTBT:PCBM","x":540,"y":79},{"s":"PCDTBT:PCBM","x":560,"y":75.5},{"s":"PCDTBT:PCBM","x":580,"y":72},{"s":"PCDTBT:PCBM","x":600,"y":69},{"s":"PCDTBT:PCBM","x":620,"y":66.5},{"s":"PCDTBT:PCBM","x":630,"y":66.3},{"s":"PCDTBT:PCBM","x":640,"y":67.5},{"s":"PCDTBT:PCBM","x":650,"y":68.5},{"s":"PCDTBT:PCBM","x":655,"y":68},{"s":"PCDTBT:PCBM","x":660,"y":66},{"s":"PCDTBT:PCBM","x":670,"y":59},{"s":"PCDTBT:PCBM","x":680,"y":44},{"s":"PCDTBT:PCBM","x":690,"y":28},{"s":"PCDTBT:PCBM","x":700,"y":15},{"s":"PCDTBT:PCBM","x":710,"y":8},{"s":"PCDTBT:PCBM","x":720,"y":4.5},{"s":"PCDTBT:PCBM","x":740,"y":2.5},{"s":"PCDTBT:PCBM","x":760,"y":2},{"s":"PCDTBT:PCBM","x":780,"y":1.8},{"s":"PCDTBT:PCBM","x":800,"y":2},{"s":"PCDTBT:PCBM","x":820,"y":3},{"s":"PCDTBT:PCBM","x":840,"y":4.2},{"s":"PCDTBT:PCBM","x":860,"y":5.5},{"s":"PCDTBT:PCBM","x":880,"y":6.8},{"s":"PCDTBT:PCBM","x":900,"y":8}
]
},
"vconcat": [
{"hconcat": [
{
  "title": {"text": "(a)", "dx": -18, "offset": -18},
  "width": 270, "height": 200,
  "data": {"name": "a"},
  "encoding": {
    "x": {"field": "x", "type": "quantitative", "scale": {"domain": [50, 400], "nice": false}, "axis": {"values": [100, 200, 300, 400], "title": "Active layer thickness (nm)", "labelFontSize": 12, "titleFontSize": 11.5, "titlePadding": 7}},
    "y": {"field": "y", "type": "quantitative", "scale": {"domain": [1.77, 4.03], "nice": false, "zero": false}, "axis": {"values": [2, 2.5, 3, 3.5, 4], "labelExpr": "format(datum.value,'.1f')+'x10¹⁸'", "title": ["Number of photons absorbed [indoor LED] (μA/cm²)", "(photons/(m²*s))"], "titleFontSize": 10.5, "labelFontSize": 12, "titleLineHeight": 26, "titlePadding": 6}},
    "color": {"field": "s", "type": "nominal", "scale": {"domain": ["Quaternary", "PTB7:PC71BM", "PCDTBT:PC71BM"], "range": ["#000000", "#e8161b", "#2a7fff"]},
      "legend": {"title": null, "orient": "none", "legendX": 137, "legendY": 137, "labelFontSize": 11.5, "symbolSize": 100, "labelOffset": 12, "rowPadding": 0,
        "encode": {"symbols": {"update": {
          "shape": {"signal": "datum.value==='Quaternary'?'M-2.5,0H2.5M-0.5,-0.5H0.5V0.5H-0.5Z':datum.value==='PTB7:PC71BM'?'M-2.5,0H2.5M0.55,0A0.55,0.55,0,1,1,-0.55,0A0.55,0.55,0,1,1,0.55,0Z':'M-2.5,0H2.5M0,-0.6L0.6,0.45L-0.6,0.45Z'"},
          "stroke": {"signal": "datum.value==='Quaternary'?'#000000':datum.value==='PTB7:PC71BM'?'#e8161b':'#2a7fff'"},
          "fill": {"signal": "datum.value==='Quaternary'?'#000000':datum.value==='PTB7:PC71BM'?'#e8161b':'#2a7fff'"},
          "strokeWidth": {"value": 1.5}, "size": {"value": 100}, "opacity": {"value": 1}, "fillOpacity": {"value": 1}, "strokeOpacity": {"value": 1}}}}}}
  },
  "layer": [
    {"mark": {"type": "line", "strokeWidth": 1.5, "interpolate": "monotone"}},
    {"transform": [{"filter": "datum.s === 'Quaternary'"}], "mark": {"type": "point", "filled": true, "size": 16, "opacity": 1, "shape": "square"}},
    {"transform": [{"filter": "datum.s === 'PTB7:PC71BM'"}], "mark": {"type": "point", "filled": true, "size": 16, "opacity": 1, "shape": "circle"}},
    {"transform": [{"filter": "datum.s === 'PCDTBT:PC71BM'"}], "mark": {"type": "point", "filled": true, "size": 18, "opacity": 1, "shape": "triangle-up"}}
  ]
},
{
  "title": {"text": "(b)", "dx": -18, "offset": -4},
  "width": 275, "height": 203,
  "data": {"name": "b"},
  "encoding": {
    "x": {"field": "x", "type": "quantitative", "scale": {"domain": [50, 400], "nice": false}, "axis": {"values": [100, 200, 300, 400], "title": "Active layer thickness (nm)", "labelFontSize": 12, "titleFontSize": 11.5, "titlePadding": 7}},
    "y": {"field": "y", "type": "quantitative", "scale": {"domain": [6, 15], "nice": false, "zero": false}, "axis": {"values": [6, 7, 8, 9, 10, 11, 12, 13, 14, 15], "labelExpr": "datum.value < 10 ? datum.value + 'x10²⁰' : (datum.value < 14.5 ? '1x10²¹' : '2x10²¹')", "title": ["Number of photons absorbed [Sun] (mA/cm²)", "(photons/(m²*s))"], "titleFontSize": 11, "labelFontSize": 12, "titleLineHeight": 22, "titlePadding": 5}},
    "color": {"field": "s", "type": "nominal", "scale": {"domain": ["Quaternary", "PTB7:PC71BM", "PCDTBT:PC71BM"], "range": ["#000000", "#e8161b", "#2a7fff"]},
      "legend": {"title": null, "orient": "none", "legendX": 148, "legendY": 150, "labelFontSize": 12, "symbolSize": 100, "labelOffset": 12, "rowPadding": 1,
        "encode": {"symbols": {"update": {
          "shape": {"signal": "datum.value==='Quaternary'?'M-2.5,0H2.5M-0.5,-0.5H0.5V0.5H-0.5Z':datum.value==='PTB7:PC71BM'?'M-2.5,0H2.5M0.55,0A0.55,0.55,0,1,1,-0.55,0A0.55,0.55,0,1,1,0.55,0Z':'M-2.5,0H2.5M0,-0.6L0.6,0.45L-0.6,0.45Z'"},
          "stroke": {"signal": "datum.value==='Quaternary'?'#000000':datum.value==='PTB7:PC71BM'?'#e8161b':'#2a7fff'"},
          "fill": {"signal": "datum.value==='Quaternary'?'#000000':datum.value==='PTB7:PC71BM'?'#e8161b':'#2a7fff'"},
          "strokeWidth": {"value": 1.5}, "size": {"value": 100}, "opacity": {"value": 1}, "fillOpacity": {"value": 1}, "strokeOpacity": {"value": 1}}}}}}
  },
  "layer": [
    {"mark": {"type": "line", "strokeWidth": 1.5, "interpolate": "monotone"}},
    {"transform": [{"filter": "datum.s === 'Quaternary'"}], "mark": {"type": "point", "filled": true, "size": 16, "opacity": 1, "shape": "square"}},
    {"transform": [{"filter": "datum.s === 'PTB7:PC71BM'"}], "mark": {"type": "point", "filled": true, "size": 16, "opacity": 1, "shape": "circle"}},
    {"transform": [{"filter": "datum.s === 'PCDTBT:PC71BM'"}], "mark": {"type": "point", "filled": true, "size": 18, "opacity": 1, "shape": "triangle-up"}}
  ]
}
], "spacing": 10, "resolve": {"scale": {"color": "independent", "shape": "independent"}, "legend": {"color": "independent", "shape": "independent"}}},
{"hconcat": [
{
  "title": {"text": "(c)", "dx": -33, "offset": -15},
  "width": 286, "height": 211,
  "layer": [
    {"data": {"name": "layers"}, "mark": {"type": "rect", "fill": "#c0c0c0"},
     "encoding": {"x": {"field": "x1", "type": "quantitative"}, "x2": {"field": "x2"}}},
    {"data": {"name": "edges"}, "mark": {"type": "rule", "color": "black", "strokeWidth": 2},
     "encoding": {"x": {"field": "x", "type": "quantitative"}}},
    {"data": {"name": "c"}, "mark": {"type": "line", "strokeWidth": 2.2, "interpolate": "monotone"},
     "encoding": {
       "x": {"field": "x", "type": "quantitative", "scale": {"domain": [0, 550], "nice": false}, "axis": {"values": [100, 200, 300, 400, 500], "title": "Position in the device (nm)", "labelFontSize": 13, "titleFontSize": 16, "titlePadding": 4}},
       "y": {"field": "y", "type": "quantitative", "scale": {"domain": [0, 0.9], "nice": false}, "axis": {"values": [0, 0.4, 0.8], "format": ".1f", "title": "Normalized |E|²", "labelFontSize": 13, "titleFontSize": 18, "titlePadding": 12}},
       "color": {"field": "s", "type": "nominal", "scale": {"domain": ["400 nm", "450 nm", "500 nm", "550 nm", "600 nm"], "range": ["#ff00ff", "#168a16", "#ff6347", "#ff0000", "#000000"]},
         "legend": {"title": null, "orient": "none", "direction": "horizontal", "legendX": 12, "legendY": -17, "symbolType": "stroke", "symbolSize": 529, "symbolStrokeWidth": 2.5, "labelFontSize": 7.5, "labelOffset": 2, "columnPadding": -6}}
     }},
    {"data": {"name": "labels"}, "mark": {"type": "text", "font": "Liberation Serif", "fontWeight": "bold", "fontSize": 12.5, "angle": 270, "align": "left", "baseline": "middle", "color": "black"},
     "encoding": {"x": {"field": "x", "type": "quantitative"}, "y": {"field": "y", "type": "quantitative"}, "text": {"field": "t"}}}
  ]
},
{
  "title": {"text": "(d)", "dx": -26, "offset": -12},
  "width": 275, "height": 199,
  "data": {"name": "d"},
  "mark": {"type": "line", "strokeWidth": 1.8, "interpolate": "monotone"},
  "encoding": {
    "x": {"field": "x", "type": "quantitative", "scale": {"domain": [300, 900], "nice": false}, "axis": {"values": [300, 400, 500, 600, 700, 800, 900], "title": "Wavelength (nm)", "labelFontSize": 16, "titleFontSize": 18, "labelPadding": 9, "titlePadding": 8}},
    "y": {"field": "y", "type": "quantitative", "scale": {"domain": [0, 100], "nice": false}, "axis": {"values": [0, 20, 40, 60, 80, 100], "title": "Absorption (%)", "labelFontSize": 16, "titleFontSize": 18, "titlePadding": 6}},
    "color": {"field": "s", "type": "nominal", "scale": {"domain": ["Quaternary", "PTB7:PCBM", "PCDTBT:PCBM"], "range": ["#000000", "#ff0000", "#0a0ac8"]},
      "legend": {"title": null, "orient": "none", "legendX": 63, "legendY": 130, "symbolType": "M-2,0H2", "symbolSize": 144, "symbolStrokeWidth": 2, "labelFontSize": 12, "labelOffset": 8, "rowPadding": 0}}
  }
}
], "spacing": 3, "resolve": {"scale": {"color": "independent", "shape": "independent"}, "legend": {"color": "independent", "shape": "independent"}}}
],
"spacing": 0
}
